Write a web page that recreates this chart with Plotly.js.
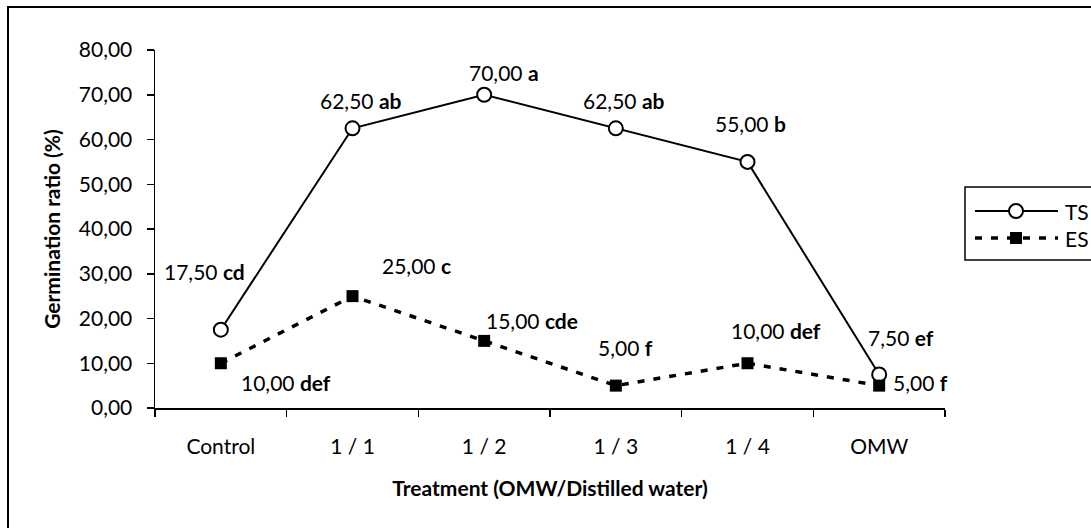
<!DOCTYPE html>
<html>
<head>
<meta charset="utf-8">
<script src="https://cdn.plot.ly/plotly-3.0.1.min.js"></script>
<style>html,body{margin:0;padding:0;background:#fff;}#chart{width:1091px;height:528px;}</style>
</head>
<body>
<div id="chart"></div>
<script>
// ---- data ----
const categories = ["Control", "1 / 1", "1 / 2", "1 / 3", "1 / 4", "OMW"];
const tsValues = [17.5, 62.5, 70.0, 62.5, 55.0, 7.5];
const esValues = [10.0, 25.0, 15.0, 5.0, 10.0, 5.0];
const tsLetters = ["cd", "ab", "a", "ab", "b", "ef"];
const esLetters = ["def", "c", "cde", "f", "def", "f"];
const seriesNames = ["TS", "ES"];

// ---- layout geometry (pixels) ----
const W = 1091, H = 528, L = 155, R = 146, T = 50, B = 120;
const pw = W - L - R, ph = H - T - B;
const fx = p => (p - L) / pw;
const fy = p => (H - B - p) / ph;
const FONT = "Lato, 'Open Sans', sans-serif";
const FS = 21;

// label offsets (pixels) relative to each point
const tsShift = [[-16, 58], [8, 28], [20, 22], [8, 28], [3, 38], [22, 37]];
const esShift = [[65, -19], [64, 31], [48, 20], [10, 38], [28, 33], [41, 3]];

const fmt = v => v.toFixed(2).replace(".", ",");

const traces = [
  {
    x: categories, y: tsValues, name: seriesNames[0], type: "scatter", mode: "lines+markers",
    line: {color: "#000", width: 2},
    marker: {symbol: "circle", size: 14, color: "#fff", line: {color: "#000", width: 2}},
    showlegend: false, hoverinfo: "skip"
  },
  {
    x: categories, y: esValues, name: seriesNames[1], type: "scatter", mode: "lines+markers",
    line: {color: "#000", width: 3.5, dash: "7px,9px"},
    marker: {symbol: "square", size: 12, color: "#000", line: {color: "#000", width: 0}},
    showlegend: false, hoverinfo: "skip"
  }
];

const annotations = [];
tsValues.forEach((v, i) => annotations.push({
  x: categories[i], y: v, xref: "x", yref: "y", showarrow: false,
  text: fmt(v) + " <b>" + tsLetters[i] + "</b>",
  xshift: tsShift[i][0], yshift: tsShift[i][1],
  font: {family: FONT, size: FS, color: "#000"}
}));
esValues.forEach((v, i) => annotations.push({
  x: categories[i], y: v, xref: "x", yref: "y", showarrow: false,
  text: fmt(v) + " <b>" + esLetters[i] + "</b>",
  xshift: esShift[i][0], yshift: esShift[i][1],
  font: {family: FONT, size: FS, color: "#000"}
}));

// manual legend (Excel style, long line samples)
const legY = [211, 238];
seriesNames.forEach((n, k) => annotations.push({
  x: fx(1063), y: fy(legY[k]), xref: "paper", yref: "paper", xanchor: "left", yanchor: "middle",
  showarrow: false, text: n, font: {family: FONT, size: FS, color: "#000"}
}));

const shapes = [
  // chart border
  {type: "rect", xref: "paper", yref: "paper", x0: fx(8), x1: fx(1110), y0: fy(7), y1: fy(545),
   line: {color: "#000", width: 2}, fillcolor: "rgba(0,0,0,0)", layer: "above"},
  // legend box
  {type: "rect", xref: "paper", yref: "paper", x0: fx(965), x1: fx(1110), y0: fy(187), y1: fy(260),
   line: {color: "#000", width: 1.5}, fillcolor: "rgba(0,0,0,0)"},
  {type: "line", xref: "paper", yref: "paper", x0: fx(975), x1: fx(1058), y0: fy(legY[0]), y1: fy(legY[0]),
   line: {color: "#000", width: 2}},
  {type: "circle", xref: "paper", yref: "paper", x0: fx(1009), x1: fx(1023), y0: fy(legY[0] - 7), y1: fy(legY[0] + 7),
   line: {color: "#000", width: 2}, fillcolor: "#fff"},
  {type: "line", xref: "paper", yref: "paper", x0: fx(975), x1: fx(1058), y0: fy(legY[1]), y1: fy(legY[1]),
   line: {color: "#000", width: 3.5, dash: "7px,9px"}},
  {type: "rect", xref: "paper", yref: "paper", x0: fx(1010), x1: fx(1022), y0: fy(legY[1] - 6), y1: fy(legY[1] + 6),
   line: {color: "#000", width: 0}, fillcolor: "#000"}
];

const layout = {
  width: W, height: H,
  margin: {l: L, r: R, t: T, b: B, pad: 0},
  paper_bgcolor: "#fff", plot_bgcolor: "#fff",
  separators: ",.",
  showlegend: false,
  font: {family: FONT, size: FS, color: "#000"},
  xaxis: {
    type: "category", range: [-0.5, 5.5], fixedrange: true,
    showline: true, linecolor: "#000", linewidth: 1.5,
    ticks: "outside", tickson: "boundaries", ticklen: 7, tickcolor: "#000", tickwidth: 1.5,
    showgrid: false, zeroline: false, ticklabelstandoff: 19,
    tickfont: {family: FONT, size: FS, color: "#000"},
    title: {text: "<b>Treatment (OMW/Distilled water)</b>", standoff: 24, font: {family: FONT, size: FS, color: "#000"}},
    automargin: false
  },
  yaxis: {
    range: [0, 80], dtick: 10, tick0: 0, tickformat: ".2f", fixedrange: true,
    showline: true, linecolor: "#000", linewidth: 1.5,
    ticks: "outside", ticklen: 7, tickcolor: "#000", tickwidth: 1.5,
    showgrid: false, zeroline: false, ticklabelstandoff: 10,
    tickfont: {family: FONT, size: FS, color: "#000"},
    title: {text: "<b>Germination ratio (%)</b>", standoff: 12, font: {family: FONT, size: FS, color: "#000"}},
    automargin: false
  },
  annotations: annotations,
  shapes: shapes
};

Plotly.newPlot("chart", traces, layout, {staticPlot: true, displayModeBar: false});
</script>
</body>
</html>
